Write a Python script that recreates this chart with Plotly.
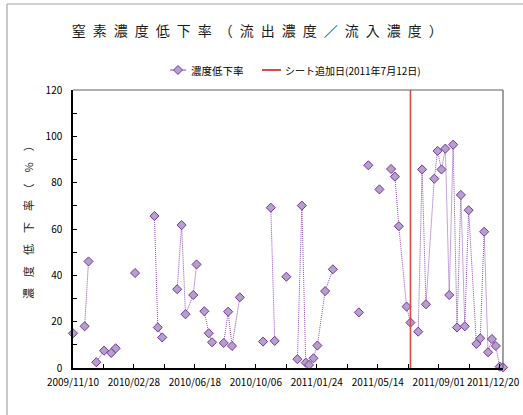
import plotly.graph_objects as go

# Sampling dates (None marks a break in the series line)
dates = [
    "2009-11-10", None,
    "2009-12-01", "2009-12-08", None,
    "2009-12-22", "2010-01-05", "2010-01-18", "2010-01-26", None,
    "2010-03-02", None,
    "2010-04-06", "2010-04-12", "2010-04-20", None,
    "2010-05-17", "2010-05-25", "2010-06-01", "2010-06-15", "2010-06-21", None,
    "2010-07-05", "2010-07-13", "2010-07-19", None,
    "2010-08-09", "2010-08-17", "2010-08-24", "2010-09-07", None,
    "2010-10-19", None,
    "2010-11-02", "2010-11-09", None,
    "2010-11-30", None,
    "2010-12-20", "2010-12-28", "2011-01-04", "2011-01-10", "2011-01-18",
    "2011-01-25", "2011-02-08", "2011-02-22", None,
    "2011-04-10", None,
    "2011-04-27", None,
    "2011-05-17", None,
    "2011-06-07", "2011-06-14", "2011-06-21", "2011-07-05", "2011-07-12", None,
    "2011-07-26", "2011-08-02", "2011-08-09", "2011-08-24", "2011-08-30",
    "2011-09-06", "2011-09-13", "2011-09-20", "2011-09-27", "2011-10-04",
    "2011-10-11", "2011-10-18", "2011-10-25", "2011-11-08", "2011-11-15",
    "2011-11-22", "2011-11-29", "2011-12-06", "2011-12-13", "2011-12-20",
    "2011-12-26",
]

# Nitrogen concentration reduction rate (%)
reduction = [
    15.0, None,
    18.0, 46.0, None,
    2.5, 7.5, 6.5, 8.5, None,
    41.0, None,
    65.6, 17.5, 13.2, None,
    34.0, 61.7, 23.2, 31.5, 44.7, None,
    24.5, 15.0, 11.1, None,
    10.8, 24.3, 9.5, 30.5, None,
    11.4, None,
    69.2, 11.7, None,
    39.4, None,
    3.8, 70.1, 2.3, 1.3, 4.2,
    9.7, 33.2, 42.6, None,
    24.0, None,
    87.5, None,
    77.1, None,
    85.9, 82.6, 61.2, 26.5, 19.6, None,
    15.7, 85.7, 27.5, 81.7, 93.7,
    85.7, 94.7, 31.5, 96.4, 17.5,
    74.7, 18.0, 68.1, 10.4, 12.8,
    58.8, 6.8, 12.5, 9.5, 0.6,
    0.3,
]

# Date-axis ticks (every 110 days)
tick_dates = ["2009-11-10", "2010-02-28", "2010-06-18", "2010-10-06",
              "2011-01-24", "2011-05-14", "2011-09-01", "2011-12-20"]
tick_labels = ["2009/11/10", "2010/02/28", "2010/06/18", "2010/10/06",
               "2011/01/24", "2011/05/14", "2011/09/01", "2011/12/20"]

sheet_date = "2011-07-12"
series_name = "濃度低下率"
sheet_name = "シート追加日(2011年7月12日)"
title_text = "\u2002".join("窒素濃度低下率（流出濃度／流入濃度）")
ytitle_text = "\u3000".join(["濃", "度", "低", "下", "率", "（", "%", "）"])

y_min, y_max = 0, 120
x_start, x_end = "2009-11-10", "2011-12-26"
DAY_MS = 86400000

FONT = "Noto Sans CJK JP, Noto Sans, sans-serif"
SERIES_LINE = "#8A4CB8"
MARKER_FILL = "#B3A2C7"
MARKER_EDGE = "#7A2FA8"
SHEET_RED = "#DB4B43"

# Plot-area geometry in pixels (used to place legend and frame items)
W, H = 523, 415
ML, MR, MT, MB = 73, 20, 90, 47
PW, PH = W - ML - MR, H - MT - MB


def px_x(px):
    return (px - ML) / PW


def px_y(py):
    return (H - MB - py) / PH


fig = go.Figure()

fig.add_trace(go.Scatter(
    x=dates, y=reduction, name=series_name,
    mode="lines+markers",
    line=dict(color=SERIES_LINE, width=1, dash="1px,1px"),
    marker=dict(symbol="diamond", size=7, color=MARKER_FILL,
                line=dict(color=MARKER_EDGE, width=1)),
    connectgaps=False, cliponaxis=False, showlegend=False,
))

fig.add_trace(go.Scatter(
    x=[sheet_date, sheet_date], y=[y_min, y_max], name=sheet_name,
    mode="lines", line=dict(color=SHEET_RED, width=1.6), showlegend=False,
))

fig.update_layout(
    width=W, height=H,
    margin=dict(l=ML, r=MR, t=MT, b=MB, autoexpand=False),
    paper_bgcolor="white", plot_bgcolor="white",
    font=dict(family=FONT, size=10, color="#000000"),
    title=dict(text=title_text, x=0.492, xanchor="center",
               y=1 - 31 / H, yanchor="middle",
               font=dict(family=FONT, size=14, color="#1a1a1a")),
    showlegend=False,
)

# The last tick label would run past the right edge, so it is drawn
# separately, right-aligned to the figure edge.
axis_text = tick_labels[:-1] + [""]
fig.update_xaxes(
    type="date", range=[x_start, x_end], automargin=False,
    tickmode="array", tickvals=tick_dates, ticktext=axis_text,
    ticks="inside", ticklen=4, tickcolor="#000000",
    minor=dict(tick0="2009-11-10", dtick=55 * DAY_MS, ticks="inside",
               ticklen=4, tickcolor="#000000", showgrid=False),
    showline=True, linecolor="#000000", linewidth=1.5,
    showgrid=False, zeroline=False,
    ticklabelstandoff=4,
    tickfont=dict(size=10),
)
fig.add_annotation(
    text=tick_labels[-1], showarrow=False, xref="paper", yref="paper",
    x=px_x(522), y=px_y(381), xanchor="right", yanchor="middle",
    font=dict(family=FONT, size=10, color="#000000"),
)

fig.update_yaxes(
    range=[y_min, y_max], dtick=20, automargin=False,
    ticks="inside", ticklen=4, tickcolor="#000000",
    minor=dict(dtick=10, ticks="inside", ticklen=4, tickcolor="#000000",
               showgrid=False),
    showline=True, linecolor="#000000", linewidth=1.5,
    showgrid=False, zeroline=False,
    ticklabelstandoff=7,
    tickfont=dict(size=10),
)

# Y-axis title placed beside the tick labels
fig.add_annotation(
    text=ytitle_text, textangle=-90, showarrow=False,
    xref="paper", yref="paper", x=px_x(28), y=px_y(220),
    xanchor="center", yanchor="middle",
    font=dict(family=FONT, size=11, color="#1a1a1a"),
)

# Legend row above the plot
leg_y = px_y(70)
fig.add_shape(type="line", xref="paper", yref="paper",
              x0=px_x(170), x1=px_x(186), y0=leg_y, y1=leg_y,
              line=dict(color=SERIES_LINE, width=1))
dx, dy = 4.5 / PW, 4.5 / PH
cx = px_x(178)
fig.add_shape(type="path", xref="paper", yref="paper",
              path=f"M {cx - dx} {leg_y} L {cx} {leg_y + dy} L {cx + dx} {leg_y} "
                   f"L {cx} {leg_y - dy} Z",
              fillcolor=MARKER_FILL, line=dict(color=MARKER_EDGE, width=1))
fig.add_annotation(text=series_name, showarrow=False, xref="paper", yref="paper",
                   x=px_x(189), y=leg_y, xanchor="left", yanchor="middle",
                   font=dict(family=FONT, size=10.5, color="#000000"))
fig.add_shape(type="line", xref="paper", yref="paper",
              x0=px_x(262), x1=px_x(281), y0=leg_y, y1=leg_y,
              line=dict(color=SHEET_RED, width=2))
fig.add_annotation(text=sheet_name, showarrow=False, xref="paper", yref="paper",
                   x=px_x(283), y=leg_y, xanchor="left", yanchor="middle",
                   font=dict(family=FONT, size=10, color="#000000"))

# Plot-area frame (top and right edges) and the outer chart frame
fig.add_shape(type="line", xref="paper", yref="paper", x0=0, x1=1, y0=1, y1=1,
              line=dict(color="#606060", width=1.2))
fig.add_shape(type="line", xref="paper", yref="paper", x0=1, x1=1, y0=0, y1=1,
              line=dict(color="#606060", width=1.2))
fig.add_shape(type="line", xref="paper", yref="paper",
              x0=px_x(7), x1=px_x(7), y0=px_y(4), y1=px_y(430),
              line=dict(color="#A6A6A6", width=1.2))
fig.add_shape(type="line", xref="paper", yref="paper",
              x0=px_x(7), x1=px_x(540), y0=px_y(4), y1=px_y(4),
              line=dict(color="#A6A6A6", width=1.2))

fig.write_html("out.html")
